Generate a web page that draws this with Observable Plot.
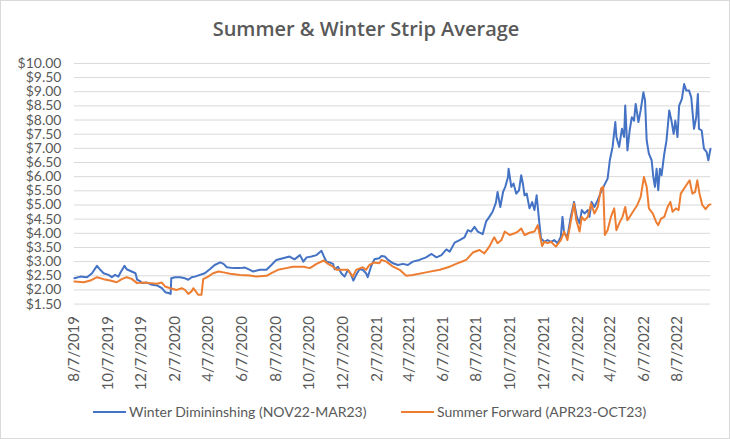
<!DOCTYPE html>
<html>
<head>
<meta charset="utf-8">
<script src="https://cdn.jsdelivr.net/npm/d3@7"></script>
<script src="https://cdn.jsdelivr.net/npm/@observablehq/plot@0.6"></script>
<style>
  html, body { margin: 0; padding: 0; background: #fff; }
  #chart { position: relative; width: 730px; height: 439px; box-sizing: border-box; border: 1px solid #d9d9d9; background: #fff; overflow: hidden; }
  #title { position: absolute; left: 0; width: 730px; top: 18px; text-align: center; font-family: "Open Sans", sans-serif; font-weight: 600; font-size: 20px; line-height: 20px; color: #595959; }
  #plot { position: absolute; left: -1px; top: -1px; }
  .legend-item { position: absolute; top: 402px; display: flex; align-items: center; font-family: Lato, sans-serif; font-size: 14px; color: #595959; white-space: nowrap; }
  .swatch { width: 33px; height: 2px; margin-right: 3px; }
</style>
</head>
<body>
<div id="chart">
  <div id="title">Summer &amp; Winter Strip Average</div>
  <div id="plot"></div>
  <div class="legend-item" id="leg-winter" style="left:92px"><span class="swatch" style="background:#4472C4"></span><span>Winter Dimininshing (NOV22-MAR23)</span></div>
  <div class="legend-item" id="leg-summer" style="left:400px"><span class="swatch" style="background:#ED7D31"></span><span>Summer Forward (APR23-OCT23)</span></div>
</div>
<script>
const seriesNames = ["Winter Dimininshing (NOV22-MAR23)", "Summer Forward (APR23-OCT23)"];
const seriesColors = ["#4472C4", "#ED7D31"];

const winter = [
["2019-08-07",2.41],["2019-08-18",2.47],["2019-08-30",2.45],["2019-09-08",2.59],["2019-09-17",2.85],["2019-09-23",2.71],["2019-09-29",2.59],
["2019-10-08",2.53],["2019-10-14",2.45],["2019-10-20",2.53],["2019-10-26",2.47],["2019-10-29",2.59],["2019-11-06",2.85],["2019-11-10",2.73],
["2019-11-19",2.65],["2019-11-26",2.59],["2019-11-29",2.36],["2019-12-05",2.30],["2019-12-08",2.24],["2019-12-17",2.26],["2019-12-26",2.18],
["2020-01-04",2.16],["2020-01-13",2.06],["2020-01-19",1.92],["2020-01-25",1.89],["2020-01-29",1.86],["2020-01-30",2.41],["2020-02-06",2.45],
["2020-02-15",2.45],["2020-02-24",2.41],["2020-03-01",2.36],["2020-03-07",2.45],["2020-03-13",2.47],["2020-03-22",2.53],["2020-03-31",2.59],
["2020-04-09",2.73],["2020-04-18",2.88],["2020-04-28",2.97],["2020-05-04",2.92],["2020-05-10",2.80],["2020-05-22",2.77],["2020-06-03",2.77],
["2020-06-12",2.79],["2020-06-21",2.71],["2020-06-27",2.65],["2020-07-09",2.71],["2020-07-21",2.71],["2020-07-30",2.88],["2020-08-08",3.06],
["2020-08-20",3.12],["2020-09-01",3.18],["2020-09-10",3.08],["2020-09-20",3.23],["2020-09-26",3.00],["2020-10-02",3.15],["2020-10-11",3.18],
["2020-10-20",3.23],["2020-10-29",3.38],["2020-11-02",3.20],["2020-11-07",3.00],["2020-11-13",2.97],["2020-11-19",2.92],["2020-11-22",2.73],
["2020-11-28",2.82],["2020-12-04",2.59],["2020-12-10",2.47],["2020-12-16",2.71],["2020-12-22",2.53],["2020-12-26",2.33],["2020-12-31",2.53],
["2021-01-06",2.73],["2021-01-12",2.71],["2021-01-18",2.59],["2021-01-21",2.45],["2021-01-27",2.82],["2021-02-02",3.08],["2021-02-11",3.12],
["2021-02-15",3.20],["2021-02-21",3.18],["2021-02-27",3.06],["2021-03-08",2.94],["2021-03-17",2.88],["2021-03-26",2.92],["2021-04-04",2.88],
["2021-04-13",3.00],["2021-04-25",3.06],["2021-05-07",3.15],["2021-05-17",3.27],["2021-05-26",3.15],["2021-06-04",3.23],["2021-06-13",3.43],
["2021-06-19",3.35],["2021-06-28",3.67],["2021-07-07",3.76],["2021-07-16",3.86],["2021-07-22",4.11],["2021-07-28",4.06],["2021-08-03",4.23],
["2021-08-09",4.06],["2021-08-18",3.97],["2021-08-24",4.41],["2021-08-30",4.58],["2021-09-05",4.76],["2021-09-11",5.08],["2021-09-14",5.46],
["2021-09-19",4.93],["2021-09-24",5.46],["2021-09-28",5.64],["2021-10-03",5.99],["2021-10-04",6.28],["2021-10-09",5.64],["2021-10-13",5.76],
["2021-10-18",5.40],["2021-10-23",5.52],["2021-10-27",6.05],["2021-10-30",5.76],["2021-11-02",5.34],["2021-11-06",5.40],["2021-11-11",4.88],
["2021-11-16",5.10],["2021-11-20",4.82],["2021-11-24",5.34],["2021-11-29",4.35],["2021-12-02",3.82],["2021-12-08",3.70],["2021-12-14",3.76],
["2021-12-20",3.70],["2021-12-26",3.76],["2022-01-01",3.65],["2022-01-07",3.88],["2022-01-10",4.58],["2022-01-13",4.00],["2022-01-19",3.88],
["2022-01-25",4.58],["2022-01-31",5.11],["2022-02-05",4.58],["2022-02-10",4.35],["2022-02-14",4.82],["2022-02-19",4.70],["2022-02-25",4.82],
["2022-02-28",4.58],["2022-03-04",5.11],["2022-03-09",4.93],["2022-03-15",5.17],["2022-03-21",5.46],["2022-03-27",5.70],["2022-04-02",5.93],
["2022-04-06",6.58],["2022-04-11",7.05],["2022-04-16",7.93],["2022-04-18",7.40],["2022-04-23",7.05],["2022-04-28",7.69],["2022-05-02",7.40],
["2022-05-04",8.51],["2022-05-08",6.93],["2022-05-12",7.63],["2022-05-16",8.10],["2022-05-20",7.98],["2022-05-23",8.57],["2022-05-28",7.93],
["2022-06-01",8.34],["2022-06-06",8.98],["2022-06-09",8.69],["2022-06-12",7.28],["2022-06-16",6.81],["2022-06-21",6.58],["2022-06-24",5.99],
["2022-06-27",5.64],["2022-06-30",6.28],["2022-07-03",5.52],["2022-07-06",6.28],["2022-07-09",6.05],["2022-07-14",6.81],["2022-07-18",7.28],
["2022-07-23",8.34],["2022-07-27",7.98],["2022-07-31",7.51],["2022-08-03",7.98],["2022-08-07",7.40],["2022-08-10",8.51],["2022-08-15",8.75],
["2022-08-19",9.27],["2022-08-23",9.04],["2022-08-28",9.04],["2022-09-01",8.80],["2022-09-06",7.69],["2022-09-10",8.10],["2022-09-13",8.92],
["2022-09-15",7.69],["2022-09-20",7.63],["2022-09-24",6.99],["2022-09-29",6.87],["2022-10-02",6.58],["2022-10-06",6.99]
];

const summer = [
["2019-08-07",2.30],["2019-08-24",2.27],["2019-09-05",2.33],["2019-09-17",2.45],["2019-09-29",2.38],["2019-10-11",2.33],["2019-10-23",2.27],
["2019-11-01",2.38],["2019-11-10",2.45],["2019-11-19",2.39],["2019-11-29",2.24],["2019-12-11",2.26],["2019-12-23",2.24],["2020-01-04",2.22],
["2020-01-13",2.26],["2020-01-19",2.12],["2020-01-28",2.06],["2020-02-09",2.00],["2020-02-18",2.06],["2020-02-24",2.00],["2020-03-01",1.86],
["2020-03-07",1.95],["2020-03-10",2.06],["2020-03-16",1.91],["2020-03-19",1.83],["2020-03-25",1.83],["2020-03-28",2.38],["2020-04-06",2.47],
["2020-04-15",2.59],["2020-04-25",2.65],["2020-05-04",2.62],["2020-05-16",2.57],["2020-06-03",2.53],["2020-06-21",2.51],["2020-07-03",2.47],
["2020-07-21",2.50],["2020-07-30",2.59],["2020-08-11",2.71],["2020-08-26",2.77],["2020-09-07",2.82],["2020-09-26",2.82],["2020-10-08",2.77],
["2020-10-20",2.92],["2020-11-02",3.04],["2020-11-10",2.92],["2020-11-19",2.82],["2020-11-25",2.71],["2020-12-07",2.71],["2020-12-16",2.71],
["2020-12-25",2.47],["2020-12-31",2.71],["2021-01-12",2.80],["2021-01-18",2.71],["2021-01-24",2.88],["2021-02-02",2.97],["2021-02-11",2.94],
["2021-02-15",3.06],["2021-02-24",3.00],["2021-03-08",2.82],["2021-03-20",2.71],["2021-04-01",2.50],["2021-04-13",2.53],["2021-05-07",2.62],
["2021-06-01",2.71],["2021-06-19",2.82],["2021-07-07",2.97],["2021-07-19",3.06],["2021-07-31",3.32],["2021-08-12",3.41],["2021-08-21",3.29],
["2021-08-30",3.53],["2021-09-08",3.86],["2021-09-14",3.65],["2021-09-21",3.76],["2021-09-27",4.06],["2021-10-06",3.94],["2021-10-15",4.00],
["2021-10-21",4.06],["2021-10-27",4.17],["2021-11-02",3.94],["2021-11-11",4.02],["2021-11-20",4.06],["2021-11-26",4.29],["2021-11-29",4.00],
["2021-12-04",3.55],["2021-12-08",3.70],["2021-12-14",3.65],["2021-12-20",3.70],["2021-12-29",3.53],["2022-01-07",3.76],["2022-01-13",4.06],
["2022-01-19",3.76],["2022-01-25",4.41],["2022-01-31",5.05],["2022-02-04",4.46],["2022-02-10",4.06],["2022-02-14",4.58],["2022-02-19",4.46],
["2022-02-25",4.58],["2022-03-03",5.05],["2022-03-09",4.70],["2022-03-15",4.93],["2022-03-21",5.58],["2022-03-25",5.64],["2022-03-28",3.94],
["2022-04-02",4.11],["2022-04-08",4.58],["2022-04-14",4.88],["2022-04-18",4.11],["2022-04-23",4.35],["2022-04-29",4.58],["2022-05-04",4.93],
["2022-05-08",4.46],["2022-05-14",4.64],["2022-05-20",4.82],["2022-05-26",5.00],["2022-06-01",5.28],["2022-06-07",5.99],["2022-06-12",5.64],
["2022-06-16",4.88],["2022-06-23",4.70],["2022-06-29",4.41],["2022-07-03",4.29],["2022-07-08",4.52],["2022-07-14",4.58],["2022-07-20",4.93],
["2022-07-25",5.11],["2022-07-29",4.76],["2022-08-04",4.88],["2022-08-09",4.82],["2022-08-13",5.40],["2022-08-19",5.58],["2022-08-25",5.76],
["2022-08-29",5.87],["2022-09-03",5.40],["2022-09-08",5.46],["2022-09-12",5.87],["2022-09-16",5.40],["2022-09-21",5.00],["2022-09-27",4.85],
["2022-10-03",5.00],["2022-10-06",5.02]
];

const xTickLabels = ["2019-08-07","2019-10-07","2019-12-07","2020-02-07","2020-04-07","2020-06-07","2020-08-07","2020-10-07","2020-12-07",
  "2021-02-07","2021-04-07","2021-06-07","2021-08-07","2021-10-07","2021-12-07","2022-02-07","2022-04-07","2022-06-07","2022-08-07"];
const yTicks = [1.5,2,2.5,3,3.5,4,4.5,5,5.5,6,6.5,7,7.5,8,8.5,9,9.5,10];

const parse = d3.utcParse("%Y-%m-%d");
const rows = [
  ...winter.map(([d, v]) => ({date: parse(d), value: v, series: seriesNames[0]})),
  ...summer.map(([d, v]) => ({date: parse(d), value: v, series: seriesNames[1]}))
];
const xTicks = xTickLabels.map(parse);
const fmtDate = d => `${d.getUTCMonth() + 1}/${d.getUTCDate()}/${d.getUTCFullYear()}`;

const plot = Plot.plot({
  width: 730,
  height: 395,
  marginTop: 63,
  marginBottom: 91,
  marginLeft: 74,
  marginRight: 19,
  style: {fontFamily: "Lato, sans-serif", fontSize: "15px", color: "#595959", background: "transparent"},
  x: {type: "utc", domain: [parse(winter[0][0]), parse(winter[winter.length - 1][0])]},
  y: {domain: [1.5, 10]},
  color: {domain: seriesNames, range: seriesColors},
  marks: [
    Plot.gridY(yTicks, {stroke: "#d9d9d9", strokeOpacity: 1, strokeWidth: 1}),
    Plot.axisY(yTicks, {tickSize: 0, tickPadding: 13, fontSize: 14, tickFormat: d => "$" + d3.format(".2f")(d), label: null, fill: "#595959"}),
    Plot.axisX(xTicks, {tickSize: 0, tickPadding: 12, tickRotate: -90, tickFormat: fmtDate, label: null, fill: "#595959"}),
    Plot.line(rows, {x: "date", y: "value", z: "series", stroke: "series", strokeWidth: 2, strokeLinejoin: "round"})
  ]
});
document.getElementById("plot").appendChild(plot);
</script>
</body>
</html>
